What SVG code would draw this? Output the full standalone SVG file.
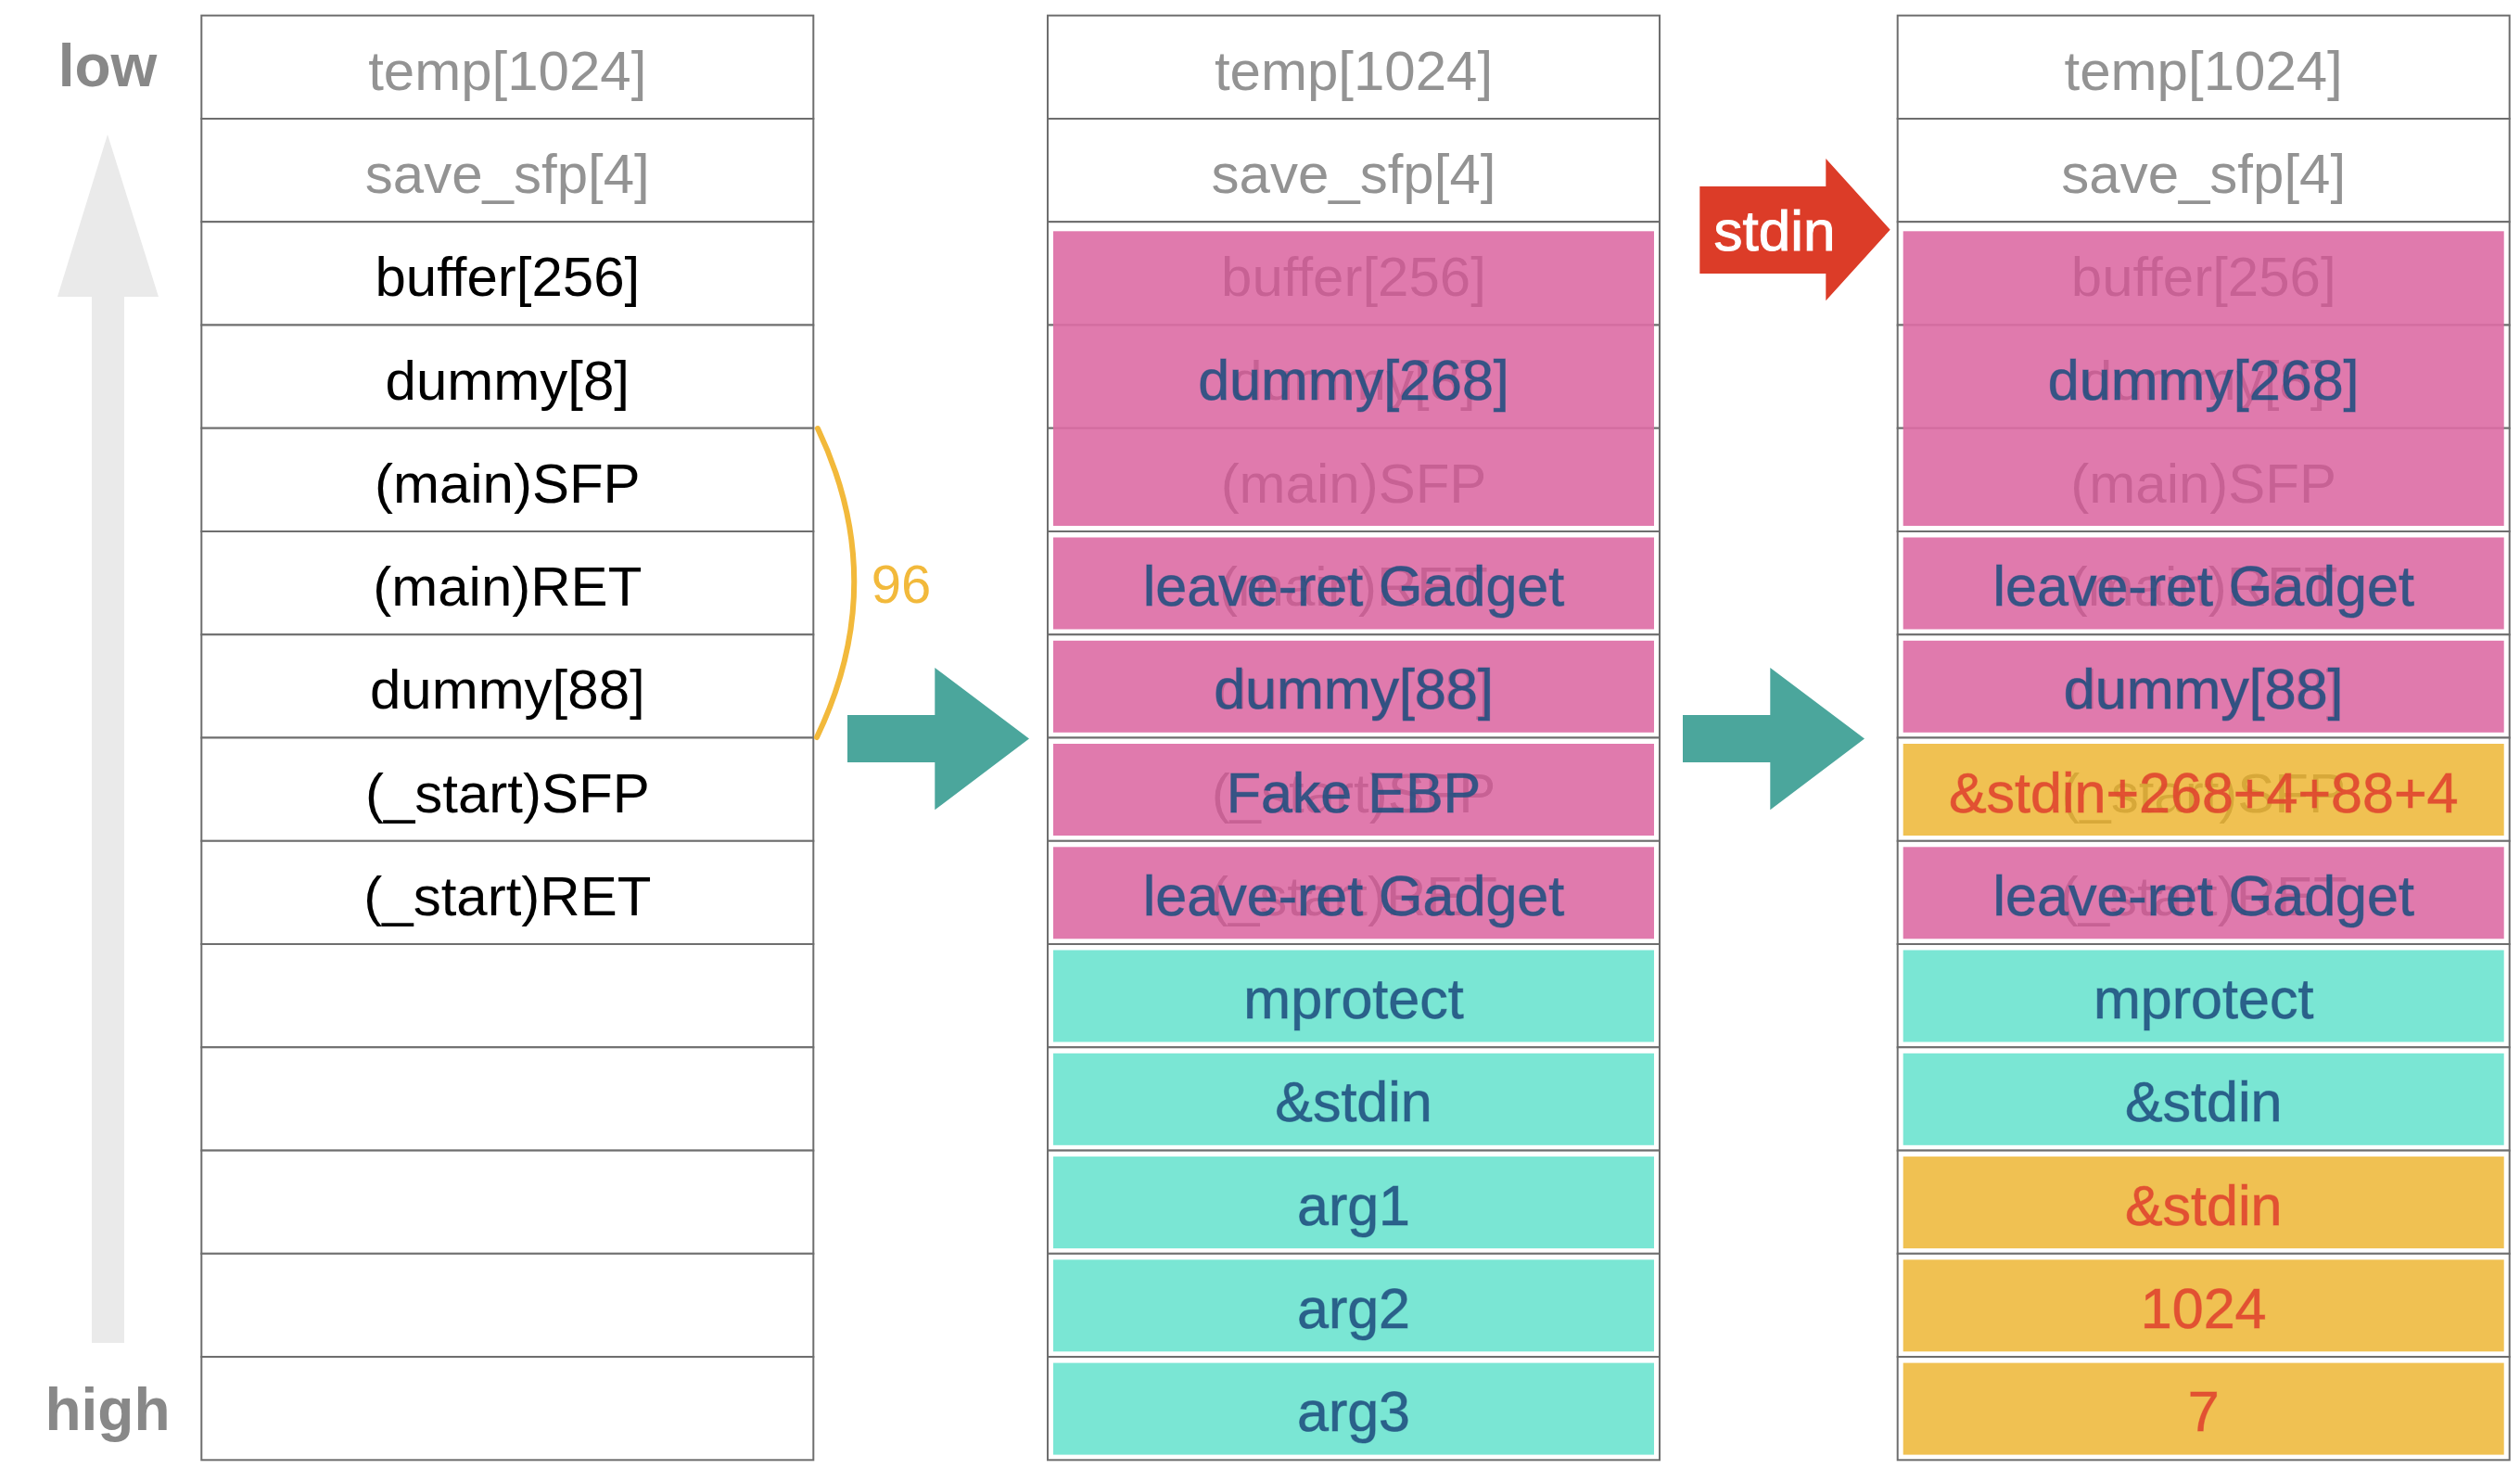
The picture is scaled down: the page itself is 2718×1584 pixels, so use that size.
<svg xmlns="http://www.w3.org/2000/svg" width="2718" height="1584" viewBox="0 0 2718 1584">
<style>
text{font-family:"Liberation Sans",Arial,Helvetica,sans-serif;text-anchor:middle}
.cell{fill:#ffffff;stroke:#6e6e6e;stroke-width:2}
.t{font-size:60px;fill:#000000}
.g{font-size:60px;fill:#939393}
.lbl{font-size:64px;font-weight:bold;fill:#888888}
.pink{fill:#DD6BA4;fill-opacity:0.9}
.teal{fill:#6BE3CF;fill-opacity:0.9}
.yel{fill:#EEBA3F;fill-opacity:0.9}
.b{font-size:61px;fill:#1F4F80;fill-opacity:0.88;stroke:#1F4F80;stroke-opacity:0.5;stroke-width:1}
.r{font-size:61px;fill:#E0452F;fill-opacity:0.9;stroke:#E0452F;stroke-opacity:0.5;stroke-width:1}
</style>
<rect width="2718" height="1584" fill="#ffffff"/>

<g id="axis">
<polygon points="116,145 171,320 134,320 134,1448 99,1448 99,320 62,320" fill="#EAEAEA"/>
<text class="lbl" x="116" y="93">low</text>
<text class="lbl" x="116" y="1542">high</text>
</g>

<!-- Column 1: original stack -->
<g id="stack-original">
<rect class="cell" x="217.3" y="16.7" width="660" height="111.3"/>
<rect class="cell" x="217.3" y="128" width="660" height="111.2"/>
<rect class="cell" x="217.3" y="239.2" width="660" height="111.3"/>
<rect class="cell" x="217.3" y="350.5" width="660" height="111.2"/>
<rect class="cell" x="217.3" y="461.7" width="660" height="111.3"/>
<rect class="cell" x="217.3" y="573" width="660" height="111.3"/>
<rect class="cell" x="217.3" y="684.3" width="660" height="111.2"/>
<rect class="cell" x="217.3" y="795.5" width="660" height="111.3"/>
<rect class="cell" x="217.3" y="906.8" width="660" height="111.2"/>
<rect class="cell" x="217.3" y="1018" width="660" height="111.3"/>
<rect class="cell" x="217.3" y="1129.3" width="660" height="111.3"/>
<rect class="cell" x="217.3" y="1240.6" width="660" height="111.2"/>
<rect class="cell" x="217.3" y="1351.8" width="660" height="111.3"/>
<rect class="cell" x="217.3" y="1463.1" width="660" height="111.2"/>
<text class="g" x="547.3" y="96.7">temp[1024]</text>
<text class="g" x="547.3" y="208">save_sfp[4]</text>
<text class="t" x="547.3" y="319.2">buffer[256]</text>
<text class="t" x="547.3" y="430.5">dummy[8]</text>
<text class="t" x="547.3" y="541.7">(main)SFP</text>
<text class="t" x="547.3" y="653">(main)RET</text>
<text class="t" x="547.3" y="764.3">dummy[88]</text>
<text class="t" x="547.3" y="875.5">(_start)SFP</text>
<text class="t" x="547.3" y="986.8">(_start)RET</text>
</g>

<!-- Column 2: payload -->
<g id="stack-payload">
<rect class="cell" x="1130" y="16.7" width="660" height="111.3"/>
<rect class="cell" x="1130" y="128" width="660" height="111.2"/>
<rect class="cell" x="1130" y="239.2" width="660" height="111.3"/>
<rect class="cell" x="1130" y="350.5" width="660" height="111.2"/>
<rect class="cell" x="1130" y="461.7" width="660" height="111.3"/>
<rect class="cell" x="1130" y="573" width="660" height="111.3"/>
<rect class="cell" x="1130" y="684.3" width="660" height="111.2"/>
<rect class="cell" x="1130" y="795.5" width="660" height="111.3"/>
<rect class="cell" x="1130" y="906.8" width="660" height="111.2"/>
<rect class="cell" x="1130" y="1018" width="660" height="111.3"/>
<rect class="cell" x="1130" y="1129.3" width="660" height="111.3"/>
<rect class="cell" x="1130" y="1240.6" width="660" height="111.2"/>
<rect class="cell" x="1130" y="1351.8" width="660" height="111.3"/>
<rect class="cell" x="1130" y="1463.1" width="660" height="111.2"/>
<text class="g" x="1460" y="96.7">temp[1024]</text>
<text class="g" x="1460" y="208">save_sfp[4]</text>
<text class="t" x="1460" y="319.2">buffer[256]</text>
<text class="t" x="1460" y="430.5">dummy[8]</text>
<text class="t" x="1460" y="541.7">(main)SFP</text>
<text class="t" x="1460" y="653">(main)RET</text>
<text class="t" x="1460" y="764.3">dummy[88]</text>
<text class="t" x="1460" y="875.5">(_start)SFP</text>
<text class="t" x="1460" y="986.8">(_start)RET</text>
<rect class="pink" x="1136" y="249.3" width="648" height="317.7"/>
<rect class="pink" x="1136" y="579.5" width="648" height="99"/>
<rect class="pink" x="1136" y="690.8" width="648" height="99"/>
<rect class="pink" x="1136" y="802" width="648" height="99"/>
<rect class="pink" x="1136" y="913.3" width="648" height="99"/>
<rect class="teal" x="1136" y="1024.5" width="648" height="99"/>
<rect class="teal" x="1136" y="1135.8" width="648" height="99"/>
<rect class="teal" x="1136" y="1247.1" width="648" height="99"/>
<rect class="teal" x="1136" y="1358.3" width="648" height="99"/>
<rect class="teal" x="1136" y="1469.6" width="648" height="99"/>
<text class="b" x="1460" y="430.5">dummy[268]</text>
<text class="b" x="1460" y="653">leave-ret Gadget</text>
<text class="b" x="1460" y="764.3">dummy[88]</text>
<text class="b" x="1460" y="875.5">Fake EBP</text>
<text class="b" x="1460" y="986.8">leave-ret Gadget</text>
<text class="b" x="1460" y="1098">mprotect</text>
<text class="b" x="1460" y="1209.3">&amp;stdin</text>
<text class="b" x="1460" y="1320.6">arg1</text>
<text class="b" x="1460" y="1431.8">arg2</text>
<text class="b" x="1460" y="1543.1">arg3</text>
</g>

<!-- Column 3: final -->
<g id="stack-final">
<rect class="cell" x="2046.7" y="16.7" width="660" height="111.3"/>
<rect class="cell" x="2046.7" y="128" width="660" height="111.2"/>
<rect class="cell" x="2046.7" y="239.2" width="660" height="111.3"/>
<rect class="cell" x="2046.7" y="350.5" width="660" height="111.2"/>
<rect class="cell" x="2046.7" y="461.7" width="660" height="111.3"/>
<rect class="cell" x="2046.7" y="573" width="660" height="111.3"/>
<rect class="cell" x="2046.7" y="684.3" width="660" height="111.2"/>
<rect class="cell" x="2046.7" y="795.5" width="660" height="111.3"/>
<rect class="cell" x="2046.7" y="906.8" width="660" height="111.2"/>
<rect class="cell" x="2046.7" y="1018" width="660" height="111.3"/>
<rect class="cell" x="2046.7" y="1129.3" width="660" height="111.3"/>
<rect class="cell" x="2046.7" y="1240.6" width="660" height="111.2"/>
<rect class="cell" x="2046.7" y="1351.8" width="660" height="111.3"/>
<rect class="cell" x="2046.7" y="1463.1" width="660" height="111.2"/>
<text class="g" x="2376.7" y="96.7">temp[1024]</text>
<text class="g" x="2376.7" y="208">save_sfp[4]</text>
<text class="t" x="2376.7" y="319.2">buffer[256]</text>
<text class="t" x="2376.7" y="430.5">dummy[8]</text>
<text class="t" x="2376.7" y="541.7">(main)SFP</text>
<text class="t" x="2376.7" y="653">(main)RET</text>
<text class="t" x="2376.7" y="764.3">dummy[88]</text>
<text class="t" x="2376.7" y="875.5">(_start)SFP</text>
<text class="t" x="2376.7" y="986.8">(_start)RET</text>
<rect class="pink" x="2052.7" y="249.3" width="648" height="317.7"/>
<rect class="pink" x="2052.7" y="579.5" width="648" height="99"/>
<rect class="pink" x="2052.7" y="690.8" width="648" height="99"/>
<rect class="yel" x="2052.7" y="802" width="648" height="99"/>
<rect class="pink" x="2052.7" y="913.3" width="648" height="99"/>
<rect class="teal" x="2052.7" y="1024.5" width="648" height="99"/>
<rect class="teal" x="2052.7" y="1135.8" width="648" height="99"/>
<rect class="yel" x="2052.7" y="1247.1" width="648" height="99"/>
<rect class="yel" x="2052.7" y="1358.3" width="648" height="99"/>
<rect class="yel" x="2052.7" y="1469.6" width="648" height="99"/>
<text class="b" x="2376.7" y="430.5">dummy[268]</text>
<text class="b" x="2376.7" y="653">leave-ret Gadget</text>
<text class="b" x="2376.7" y="764.3">dummy[88]</text>
<text class="r" x="2376.7" y="875.5">&amp;stdin+268+4+88+4</text>
<text class="b" x="2376.7" y="986.8">leave-ret Gadget</text>
<text class="b" x="2376.7" y="1098">mprotect</text>
<text class="b" x="2376.7" y="1209.3">&amp;stdin</text>
<text class="r" x="2376.7" y="1320.6">&amp;stdin</text>
<text class="r" x="2376.7" y="1431.8">1024</text>
<text class="r" x="2376.7" y="1543.1">7</text>
</g>

<g id="connectors">
<path d="M882,462 Q961,628 881,795" fill="none" stroke="#F2B93B" stroke-width="6" stroke-linecap="round"/>
<text x="972" y="650" font-size="58" fill="#F2B93B">96</text>
<polygon points="914,771 1008.3,771 1008.3,720 1110,796.5 1008.3,873.3 1008.3,822 914,822" fill="#4BA69C"/>
<polygon points="1815,771 1909.3,771 1909.3,720 2011,796.5 1909.3,873.3 1909.3,822 1815,822" fill="#4BA69C"/>
<g id="stdin-arrow">
<polygon points="1833.3,201 1969.3,201 1969.3,171 2038.7,247.7 1969.3,324.3 1969.3,295 1833.3,295" fill="#DC3C28"/>
<text x="1914" y="270" font-size="62" fill="#ffffff" stroke="#ffffff" stroke-width="1">stdin</text>
</g>
</g>
</svg>
